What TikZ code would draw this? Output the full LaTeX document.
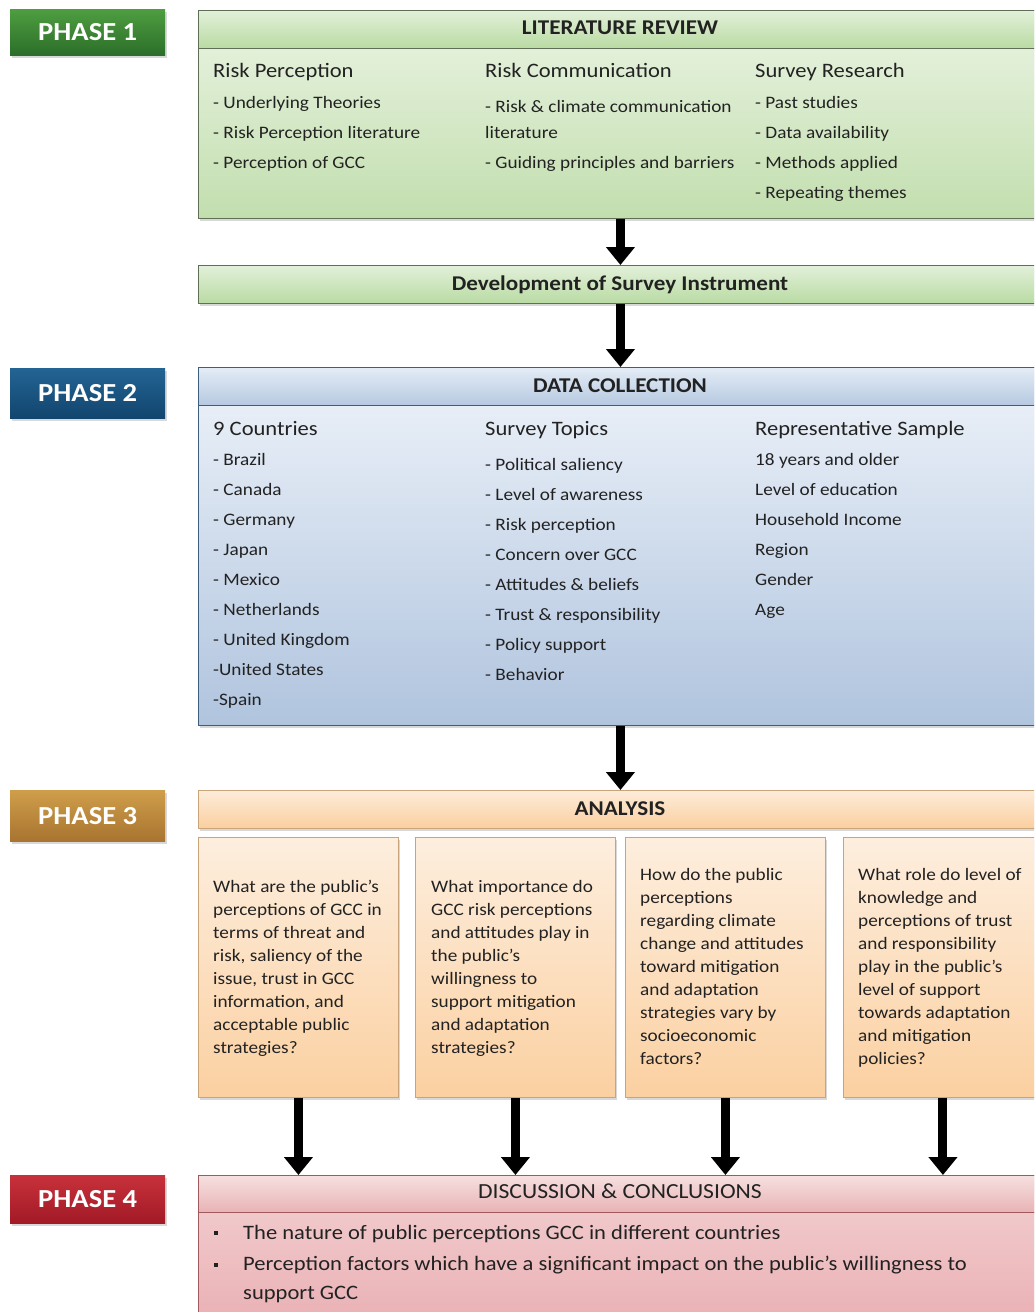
\documentclass[tikz,border=0pt]{standalone}
\usepackage{fontspec}
\setmainfont{Carlito}[FakeStretch=1.1]
\usetikzlibrary{arrows.meta,shadows}
\definecolor{ph1t}{HTML}{4E9E40}\definecolor{ph1b}{HTML}{2C6E2A}
\definecolor{ph2t}{HTML}{236494}\definecolor{ph2b}{HTML}{12456E}
\definecolor{ph3t}{HTML}{CF9E4A}\definecolor{ph3b}{HTML}{A87430}
\definecolor{ph4t}{HTML}{C8313B}\definecolor{ph4b}{HTML}{A11A26}
\definecolor{gbd}{HTML}{5F6F55}\definecolor{ght}{HTML}{E2F0D9}\definecolor{ghb}{HTML}{B9DBA3}
\definecolor{gbt}{HTML}{EAF4E3}\definecolor{gbb}{HTML}{C2DEAE}
\definecolor{bbd}{HTML}{3E5E7E}\definecolor{bht}{HTML}{E4ECF6}\definecolor{bhb}{HTML}{B6C9E1}
\definecolor{bbt}{HTML}{EEF3FA}\definecolor{bbb}{HTML}{B0C4DE}
\definecolor{obd}{HTML}{C9A47A}\definecolor{oht}{HTML}{FDECD9}\definecolor{ohb}{HTML}{FBCF9F}
\definecolor{obt}{HTML}{FDEEDE}\definecolor{obb}{HTML}{FBD0A1}
\definecolor{pbd}{HTML}{A05A5D}\definecolor{pht}{HTML}{F6E0E0}\definecolor{phb}{HTML}{E8B3B5}
\definecolor{pbt}{HTML}{F3D0D2}\definecolor{pbb}{HTML}{E9AEB2}
\definecolor{txt}{HTML}{222222}
\tikzset{
  sh/.style={drop shadow={opacity=0.3,shadow xshift=1.5pt,shadow yshift=-2.5pt}},
  phasebox/.style={sh, anchor=north west, minimum width=155pt, minimum height=#1, inner sep=0pt,
    text=white, font=\fontsize{26}{30}\selectfont\bfseries},
  panel/.style={anchor=north west, inner sep=0pt, line width=0.9pt},
  ttl/.style={anchor=base, inner sep=0pt, text=txt, font=\fontsize{21}{24}\selectfont\bfseries},
  hdg/.style={anchor=base west, inner sep=0pt, text=txt, font=\fontsize{20.5}{24}\selectfont},
  itm/.style={anchor=base west, inner sep=0pt, text=txt, font=\fontsize{17.5}{21}\selectfont},
  big/.style={anchor=base west, inner sep=0pt, text=txt, font=\fontsize{20.5}{24}\selectfont},
  arr/.style={line width=9pt, -{Triangle[width=28pt,length=18pt]}},
}
\newcommand\itemlist[5]{\foreach \t [count=\i from 0] in {#5} {\node[itm] (#1-\i) at (#2,{#3+#4*\i}) {\t};}}
\begin{document}
\begin{tikzpicture}[x=1pt,y=-1pt]
\useasboundingbox (0,0) rectangle (1034,1312);
\clip (0,0) rectangle (1034,1312);
\fill[white] (0,0) rectangle (1034,1312);

% ---------- phase labels
\node[phasebox=46pt, top color=ph1t, bottom color=ph1b] (ph1) at (10,9) {PHASE 1};
\node[phasebox=50pt, top color=ph2t, bottom color=ph2b] (ph2) at (10,368) {PHASE 2};
\node[phasebox=51pt, top color=ph3t, bottom color=ph3b] (ph3) at (10,790) {PHASE 3};
\node[phasebox=48pt, top color=ph4t, bottom color=ph4b] (ph4) at (10,1175) {PHASE 4};

% ---------- phase 1
\node[panel, sh, minimum width=844pt, minimum height=208pt, draw=gbd, top color=gbt, bottom color=gbb] (lit) at (198,10) {};
\node[panel, minimum width=844pt, minimum height=38pt, draw=gbd, top color=ght, bottom color=ghb] (lithead) at (198,10) {};
\node[ttl] (littl) at (620,34) {LITERATURE REVIEW};
\node[hdg] (h11) at (213,77) {Risk Perception};
\node[hdg] (h12) at (485,77) {Risk Communication};
\node[hdg] (h13) at (755,77) {Survey Research};
\itemlist{a}{213}{108}{30}{- Underlying Theories, - Risk Perception literature, - Perception of GCC}
\node[itm] (b-0) at (485,112) {- Risk \& climate communication};
\node[itm] (b-1) at (485,138) {literature};
\node[itm] (b-2) at (485,168) {- Guiding principles and barriers};
\itemlist{c}{755}{108}{30}{- Past studies, - Data availability, - Methods applied, - Repeating themes}

\node[panel, sh, minimum width=844pt, minimum height=38pt, draw=gbd, top color=ght, bottom color=ghb] (dev) at (198,265) {};
\node[ttl] (devtl) at (620,290) {Development of Survey Instrument};

% ---------- phase 2
\node[panel, sh, minimum width=844pt, minimum height=358pt, draw=bbd, top color=bbt, bottom color=bbb] (dc) at (198,367) {};
\node[panel, minimum width=844pt, minimum height=38pt, draw=bbd, top color=bht, bottom color=bhb] (dchead) at (198,367) {};
\node[ttl] (dctl) at (620,392) {DATA COLLECTION};
\node[hdg] (h21) at (213,435) {9 Countries};
\node[hdg] (h22) at (485,435) {Survey Topics};
\node[hdg] (h23) at (755,435) {Representative Sample};
\itemlist{d}{213}{465}{30}{- Brazil, - Canada, - Germany, - Japan, - Mexico, - Netherlands, - United Kingdom, -United States, -Spain}
\itemlist{e}{485}{470}{30.1}{- Political saliency, - Level of awareness, - Risk perception, - Concern over GCC, - Attitudes \& beliefs, - Trust \& responsibility, - Policy support, - Behavior}
\itemlist{f}{755}{465}{30}{18 years and older, Level of education, Household Income, Region, Gender, Age}

% ---------- phase 3
\node[panel, sh, minimum width=844pt, minimum height=38pt, draw=obd, top color=oht, bottom color=ohb] (an) at (198,790) {};
\node[ttl] (antl) at (620,815) {ANALYSIS};
\node[panel, sh, minimum width=200pt, minimum height=260pt, draw=obd, top color=obt, bottom color=obb] (q1) at (198,837) {};
\node[panel, sh, minimum width=200pt, minimum height=260pt, draw=obd, top color=obt, bottom color=obb] (q2) at (415,837) {};
\node[panel, sh, minimum width=200pt, minimum height=260pt, draw=obd, top color=obt, bottom color=obb] (q3) at (625,837) {};
\node[panel, sh, minimum width=199pt, minimum height=260pt, draw=obd, top color=obt, bottom color=obb] (q4) at (843,837) {};
\itemlist{g}{213}{892}{23}{What are the public’s, perceptions of GCC in, terms of threat and, {risk, saliency of the}, {issue, trust in GCC}, {information, and}, acceptable public, strategies?}
\itemlist{h}{431}{892}{23}{What importance do, GCC risk perceptions, and attitudes play in, the public’s, willingness to, support mitigation, and adaptation, strategies?}
\itemlist{k}{640}{880}{23}{How do the public, perceptions, regarding climate, change and attitudes, toward mitigation, and adaptation, strategies vary by, socioeconomic, factors?}
\itemlist{m}{858}{880}{23}{What role do level of, knowledge and, perceptions of trust, and responsibility, play in the public’s, level of support, towards adaptation, and mitigation, policies?}

% ---------- phase 4
\node[panel, sh, minimum width=844pt, minimum height=160pt, draw=pbd, top color=pbt, bottom color=pbb] (disc) at (198,1175) {};
\node[panel, minimum width=844pt, minimum height=37pt, draw=pbd, top color=pht, bottom color=phb] (dischead) at (198,1175) {};
\node[anchor=base, inner sep=0pt, text=txt, font=\fontsize{21.5}{24}\selectfont] (disctl) at (620,1198) {DISCUSSION \& CONCLUSIONS};
\node[fill=txt, minimum size=4.5pt, inner sep=0pt] (bl1) at (216,1233) {};
\node[fill=txt, minimum size=4.5pt, inner sep=0pt] (bl2) at (216,1265) {};
\node[big] (n-0) at (243,1239) {The nature of public perceptions GCC in different countries};
\node[big] (n-1) at (243,1270) {Perception factors which have a significant impact on the public’s willingness to};
\node[big] (n-2) at (243,1299) {support GCC};

% ---------- arrows
\draw[arr] (lit.south) -- (dev.north);
\draw[arr] (dev.south) -- (dc.north);
\draw[arr] (dc.south) -- (an.north);
\foreach \q in {q1,q2,q3,q4} {\draw[arr] (\q.south) -- (\q.south |- disc.north);}
\end{tikzpicture}
\end{document}
